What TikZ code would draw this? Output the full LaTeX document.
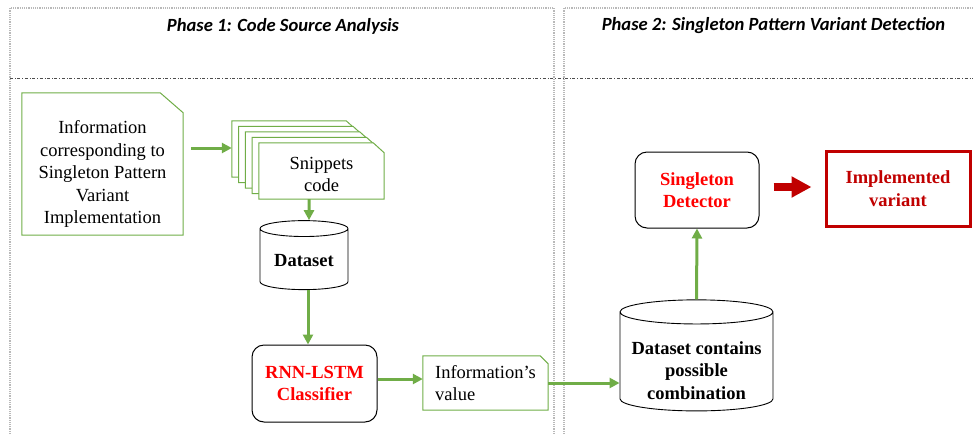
\documentclass[tikz,border=0pt]{standalone}
\usepackage{fontspec}
\setmainfont{Liberation Serif}
\newfontfamily\titlefont{Carlito}
\usetikzlibrary{positioning}
\usetikzlibrary{arrows.meta}
\usetikzlibrary{shapes.geometric}
\usetikzlibrary{backgrounds}
\definecolor{flowgreen}{HTML}{70AD47}
\definecolor{darkred}{HTML}{C00000}
\tikzset{tips=proper}
\tikzset{%
    phase/.style={draw=gray!55, densely dotted, line width=1.2pt},
    title/.style={font=\titlefont\bfseries\itshape\fontsize{18.6}{22}\selectfont},
    notebox/.style={rectangle, align=center, inner sep=2pt, font=\fontsize{18.5}{22.5}\selectfont},
    noteline/.style={draw=flowgreen, line width=1pt, fill=white},
    store/.style={cylinder, shape border rotate=90, draw, line width=0.9pt, align=center, inner sep=2pt, font=\bfseries\fontsize{18.5}{22.5}\selectfont},
    block/.style={rectangle, rounded corners=12pt, draw, line width=1pt, align=center, text=red, font=\bfseries\fontsize{18.5}{22.5}\selectfont},
    arrow/.style={draw=flowgreen, line width=3pt, -{Triangle[length=10pt, width=10pt]}},
    bigarrow/.style={draw=darkred, line width=8pt, -{Triangle[length=20pt, width=20pt]}}
}
% outline of a note with its top right corner cut off
\newcommand{\notecut}[3]{\filldraw[noteline] (#1.north west) -- ([xshift=-#2]#1.north east)
    -- ([yshift=-#3]#1.north east) -- (#1.south east) -- (#1.south west) -- cycle;}

\begin{document}
\begin{tikzpicture}[x=1pt, y=-1pt]
\useasboundingbox (0,0) rectangle (973,434);
% the two phases
\draw[phase] (10,434) -- (10,8) -- (554,8) -- (554,434);
\draw[phase] (564,434) -- (564,8) -- (973,8);
\draw[gray!60!black, dash dot, line width=1pt] (10,78) -- (973,78);
\node[title] (phase1) at (283,26) {Phase 1: Code Source Analysis};
\node[title] (phase2) at (773.5,26) {Phase 2: Singleton Pattern Variant Detection};

% phase 1
\node[notebox, minimum width=161pt, minimum height=142pt] (info) at (102.5,164)
      {\rule{0pt}{33pt}Information\\corresponding to\\Singleton Pattern\\Variant\\Implementation};
\node[notebox, minimum width=125pt, minimum height=56pt] (snippets) at (321.5,171)
      {\rule{0pt}{19pt}Snippets\\code};
\foreach \k in {1,...,4}
    \node[notebox, minimum width=125pt, minimum height=56pt] (snippets\k)
        at ([xshift={-6.75pt*\k}, yshift={5.5pt*\k}]snippets) {};
\node[store, minimum width=88pt, minimum height=69pt, aspect=0.25] (dataset) at (304,260.5) {Dataset};
\node[block, minimum width=125pt, minimum height=77pt] (rnn) at (314.5,383.5) {RNN-LSTM\\Classifier};
\node[notebox, align=left, minimum width=125pt, minimum height=54pt] (value) at (485.5,383)
      {Information’s\\value};

\begin{scope}[on background layer]
    \notecut{info}{23pt}{20pt}
    \foreach \k in {4,3,2,1} {\notecut{snippets\k}{11pt}{10pt}}
    \notecut{snippets}{11pt}{10pt}
    \notecut{value}{8pt}{8pt}
\end{scope}

% phase 2
\node[store, minimum width=153pt, minimum height=101pt, aspect=0.18] (combo) at (696.5,363)
      {\rule{0pt}{28pt}Dataset contains\\possible\\combination};
\node[block, minimum width=124pt, minimum height=76pt] (detector) at (697,190) {Singleton\\Detector};
\node[draw=darkred, line width=3pt, minimum width=144pt, minimum height=75pt, align=center,
      text=darkred, font=\bfseries\fontsize{18.5}{22.5}\selectfont] (variant) at (898,188.5)
      {Implemented\\variant};

\draw[arrow] ([xshift=8pt, yshift=16pt]info.east) -- ([xshift=-27pt, yshift=23pt]snippets.west);
\draw[arrow] ([xshift=-12.5pt]snippets.south) -- ([xshift=5pt]dataset.north);
\draw[arrow] ([xshift=4pt]dataset.south) -- ([xshift=-6.5pt]rnn.north);
\draw[arrow] ([yshift=4.5pt]rnn.east) -- ([yshift=4pt]value.west);
\draw[arrow] (value.east) -- (value.east -| combo.west);
\draw[arrow] (combo.north) -- (detector.south);
\draw[bigarrow] ([xshift=14pt, yshift=3pt]detector.east) -- ([xshift=-13pt, yshift=1.5pt]variant.west);
\end{tikzpicture}
\end{document}
